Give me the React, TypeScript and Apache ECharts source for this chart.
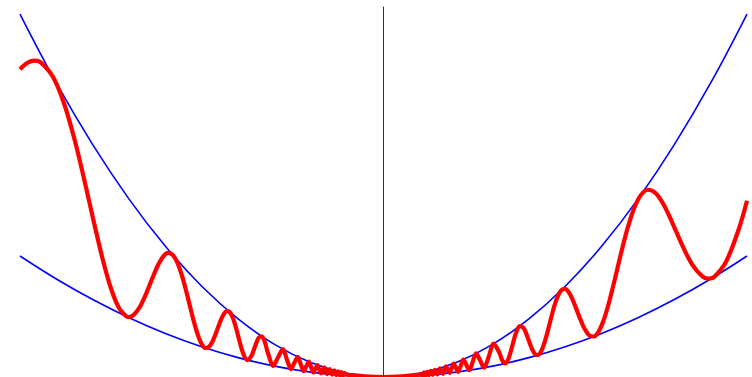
import React, { useEffect, useRef } from "react";
import * as echarts from "echarts";

// Envelope sample positions and values (upper ≈ 3·x², lower ≈ x²)
const envelopeX = [-1, -0.9, -0.8, -0.7, -0.6, -0.5, -0.4, -0.3, -0.2, -0.1, 0, 0.1, 0.2, 0.3, 0.4, 0.5, 0.6, 0.7, 0.8, 0.9, 1];
const upperY = [3, 2.43, 1.92, 1.47, 1.08, 0.75, 0.48, 0.27, 0.12, 0.03, 0, 0.03, 0.12, 0.27, 0.48, 0.75, 1.08, 1.47, 1.92, 2.43, 3];
const lowerY = [1, 0.81, 0.64, 0.49, 0.36, 0.25, 0.16, 0.09, 0.04, 0.01, 0, 0.01, 0.04, 0.09, 0.16, 0.25, 0.36, 0.49, 0.64, 0.81, 1];

// Oscillating curve, left branch (x < 0)
const leftBranch: [number, number][] = [
  [-1, 2.544], [-0.97942, 2.5968], [-0.96, 2.6147], [-0.94314, 2.6008], [-0.90946, 2.4813], [-0.8781, 2.2545],
  [-0.84883, 1.9505], [-0.82144, 1.6078], [-0.79577, 1.2665], [-0.77166, 0.9631], [-0.74896, 0.7252],
  [-0.72756, 0.5696], [-0.70736, 0.5004], [-0.7, 0.4954], [-0.68824, 0.5097], [-0.67012, 0.5806], [-0.65294, 0.6895],
  [-0.63662, 0.8106], [-0.62109, 0.9191], [-0.6063, 0.9951], [-0.5922, 1.0254], [-0.57874, 1.0048],
  [-0.56588, 0.9363], [-0.55359, 0.8296], [-0.5418, 0.6994], [-0.53052, 0.5629], [-0.51969, 0.4368],
  [-0.5093, 0.3354], [-0.49931, 0.2683], [-0.48971, 0.2398], [-0.48047, 0.2484], [-0.47157, 0.2875],
  [-0.463, 0.3467], [-0.45473, 0.4136], [-0.44675, 0.4756], [-0.43905, 0.5218], [-0.43161, 0.5447],
  [-0.42441, 0.5404], [-0.41746, 0.5095], [-0.41072, 0.4567], [-0.4042, 0.3893], [-0.39789, 0.3166],
  [-0.38583, 0.1925], [-0.37448, 0.1402], [-0.36378, 0.1711], [-0.35368, 0.2502],
  [-0.34412, 0.3206], [-0.33506, 0.3368], [-0.32647, 0.2885], [-0.31831, 0.2026], [-0.30315, 0.0919],
  [-0.28937, 0.1675], [-0.27679, 0.2298], [-0.26526, 0.1407], [-0.25465, 0.0648], [-0.24485, 0.1199],
  [-0.23579, 0.1668], [-0.22736, 0.1034], [-0.21953, 0.0482], [-0.21221, 0.0901], [-0.20536, 0.1265],
  [-0.19894, 0.0792], [-0.19292, 0.0372], [-0.18724, 0.0701], [-0.18189, 0.0993], [-0.17684, 0.0625],
  [-0.17206, 0.0296], [-0.16753, 0.0561], [-0.16324, 0.0799], [-0.15915, 0.0507], [-0.15527, 0.0241],
  [-0.15158, 0.046], [-0.14805, 0.0658], [-0.14469, 0.0419], [-0.14147, 0.02], [-0.1384, 0.0383],
  [-0.13545, 0.055], [-0.13263, 0.0352], [-0.12992, 0.0169], [-0.12732, 0.0324], [-0.12483, 0.0467],
  [-0.12243, 0.03], [-0.12012, 0.0144], [-0.11789, 0.0278], [-0.11575, 0.0402], [-0.11368, 0.0258],
  [-0.11169, 0.0125], [-0.10976, 0.0241], [-0.1079, 0.0349], [-0.1061, 0.0225], [-0.08, 0.0128],
  [-0.05, 0.005], [-0.02, 0.0008], [0, 0],
];

// Oscillating curve, right branch (x > 0)
const rightBranch: [number, number][] = [
  [0.02, 0.0008], [0.05, 0.005], [0.08, 0.0128], [0.1061, 0.0225], [0.1079, 0.0116],
  [0.10976, 0.0241], [0.11169, 0.0374], [0.11368, 0.0258], [0.11575, 0.0134], [0.11789, 0.0278],
  [0.12012, 0.0433], [0.12243, 0.03], [0.12483, 0.0156], [0.12732, 0.0324], [0.12992, 0.0506],
  [0.13263, 0.0352], [0.13545, 0.0183], [0.1384, 0.0383], [0.14147, 0.06], [0.14469, 0.0419],
  [0.14805, 0.0219], [0.15158, 0.046], [0.15527, 0.0723], [0.15915, 0.0507], [0.16324, 0.0266],
  [0.16753, 0.0561], [0.17206, 0.0888], [0.17684, 0.0625], [0.18189, 0.0331], [0.18724, 0.0701],
  [0.19292, 0.1117], [0.19894, 0.0792], [0.20536, 0.0422], [0.21221, 0.0901], [0.21953, 0.1446],
  [0.22736, 0.1034], [0.23579, 0.0556], [0.24485, 0.1199], [0.25465, 0.1945], [0.26526, 0.1407],
  [0.27679, 0.0766], [0.28937, 0.1675], [0.30315, 0.2757], [0.31831, 0.2026], [0.32647, 0.1378],
  [0.33506, 0.1123], [0.34412, 0.1531], [0.35368, 0.2502], [0.36378, 0.3583], [0.37448, 0.4207],
  [0.38583, 0.403], [0.39789, 0.3166], [0.4042, 0.2642], [0.41072, 0.2181], [0.41746, 0.1875],
  [0.42441, 0.1801], [0.43161, 0.2005], [0.43905, 0.2492], [0.44675, 0.3228], [0.45473, 0.4136],
  [0.463, 0.5108], [0.47157, 0.602], [0.48047, 0.675], [0.48971, 0.7194], [0.49931, 0.729],
  [0.5093, 0.7022], [0.51969, 0.6435], [0.53052, 0.5629], [0.5418, 0.4748], [0.55359, 0.3962],
  [0.56588, 0.3446], [0.57874, 0.3349], [0.5922, 0.3774], [0.6063, 0.4753], [0.62109, 0.6239],
  [0.63662, 0.8106], [0.65294, 1.0158], [0.67012, 1.2157], [0.68824, 1.385], [0.70736, 1.5011],
  [0.72756, 1.5478], [0.74896, 1.5185], [0.77166, 1.4188], [0.79577, 1.2665], [0.82144, 1.0913],
  [0.84883, 0.9315], [0.8781, 0.8297], [0.893, 0.8138], [0.90946, 0.8271], [0.94314, 0.9572], [0.97942, 1.2402],
  [1, 1.456],
];

export default function App() {
  const ref = useRef<HTMLDivElement>(null);

  useEffect(() => {
    if (!ref.current) return;
    const chart = echarts.init(ref.current, undefined, { renderer: "svg" });
    const upper = envelopeX.map((x, i) => [x, upperY[i]]);
    const lower = envelopeX.map((x, i) => [x, lowerY[i]]);
    const red = [...leftBranch, ...rightBranch];
    chart.setOption({
      animation: false,
      grid: { left: 20, right: 5, top: 7, bottom: 0 },
      xAxis: {
        type: "value",
        min: -1,
        max: 1,
        axisLine: { show: false },
        axisTick: { show: false },
        axisLabel: { show: false },
        splitLine: { show: false },
      },
      yAxis: {
        type: "value",
        min: 0,
        max: 3.058,
        z: 10,
        axisLine: { show: true, onZero: true, lineStyle: { color: "#333", width: 1 } },
        axisTick: { show: false },
        axisLabel: { show: false },
        splitLine: { show: false },
      },
      series: [
        {
          type: "line",
          data: upper,
          smooth: 0.4,
          showSymbol: false,
          clip: false,
          lineStyle: { color: "#0000ff", width: 1.6 },
        },
        {
          type: "line",
          data: lower,
          smooth: 0.4,
          showSymbol: false,
          clip: false,
          lineStyle: { color: "#0000ff", width: 1.6 },
        },
        {
          type: "line",
          data: red,
          smooth: 0.3,
          showSymbol: false,
          clip: false,
          lineStyle: { color: "#ff0000", width: 4.2 },
        },
      ],
    });
    return () => chart.dispose();
  }, []);

  return (
    <div
      ref={ref}
      style={{ position: "fixed", left: 0, top: 0, width: 752, height: 377 }}
    />
  );
}
